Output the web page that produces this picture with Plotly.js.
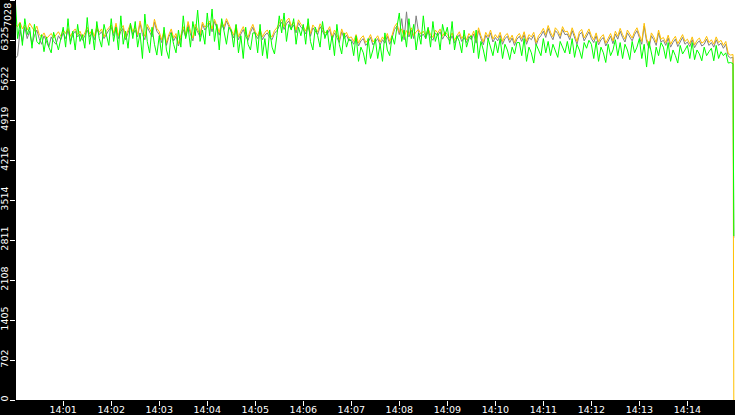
<!DOCTYPE html>
<html>
<head>
<meta charset="utf-8">
<script src="https://cdn.plot.ly/plotly-3.0.1.min.js"></script>
<style>
  html, body { margin: 0; padding: 0; background: #000; }
  #chart { width: 735px; height: 415px; }
</style>
</head>
<body>
<div id="chart"></div>
<script>
// sampling grid: one reading every 3 seconds from 14:00:00
var DAY = '2024-01-01';
var STEP_SEC = 3;
var VIEW_START = DAY + ' 14:00:01';
var VIEW_END = DAY + ' 14:14:59.5';
var DROP_TIME = DAY + ' 14:14:58';

// y axis ticks (the labels are truncated, not rounded)
var yTickVals = [0, 702.8, 1405.6, 2108.4, 2811.2, 3514, 4216.8, 4919.6, 5622.4, 6325.2, 7028];
var yTickText = ['0', '702', '1405', '2108', '2811', '3514', '4216', '4919', '5622', '6325', ''];
var yTopLabel = '7028';

// series values (10 readings per 30 s per row)
var grayValues = [
  6000, 6050, 6500, 6300, 6550, 6350, 6480, 6250, 6400, 6500,
  6350, 6250, 6400, 6300, 6200, 6380, 6300, 6250, 6400, 6330,
  6450, 6350, 6500, 6300, 6420, 6480, 6380, 6430, 6320, 6400,
  6500, 6380, 6450, 6330, 6520, 6420, 6470, 6350, 6440, 6500,
  6550, 6400, 6580, 6350, 6480, 6530, 6330, 6450, 6570, 6420,
  6500, 6380, 6620, 6420, 6330, 6550, 6470, 6380, 6640, 6480,
  6420, 6280, 6450, 6230, 6380, 6470, 6310, 6390, 6220, 6350,
  6510, 6380, 6600, 6430, 6310, 6550, 6460, 6380, 6600, 6500,
  6560, 6620, 6470, 6650, 6530, 6410, 6600, 6510, 6660, 6560,
  6470, 6360, 6540, 6330, 6430, 6510, 6390, 6320, 6460, 6550,
  6420, 6350, 6470, 6330, 6410, 6450, 6370, 6330, 6440, 6490,
  6570, 6640, 6510, 6610, 6660, 6530, 6590, 6450, 6630, 6550,
  6510, 6430, 6570, 6390, 6540, 6470, 6420, 6560, 6490, 6400,
  6430, 6510, 6330, 6450, 6370, 6280, 6470, 6350, 6410, 6310,
  6330, 6250, 6370, 6220, 6310, 6350, 6230, 6280, 6370, 6240,
  6290, 6350, 6240, 6330, 6270, 6390, 6250, 6360, 6510, 6570,
  6420, 6700, 6330, 6820, 6380, 6500, 6350, 6750, 6460, 6380,
  6430, 6350, 6480, 6370, 6320, 6450, 6400, 6470, 6340, 6420,
  6370, 6310, 6400, 6270, 6350, 6420, 6300, 6370, 6280, 6390,
  6330, 6430, 6270, 6490, 6350, 6240, 6410, 6330, 6450, 6290,
  6370, 6310, 6410, 6250, 6350, 6390, 6280, 6360, 6230, 6340,
  6390, 6300, 6420, 6250, 6370, 6330, 6410, 6230, 6350, 6400,
  6480, 6370, 6530, 6410, 6330, 6490, 6440, 6350, 6510, 6420,
  6430, 6330, 6490, 6370, 6250, 6420, 6460, 6310, 6390, 6470,
  6350, 6280, 6400, 6240, 6330, 6370, 6220, 6310, 6390, 6260,
  6430, 6340, 6480, 6370, 6290, 6450, 6390, 6310, 6420, 6490,
  6370, 6250, 6570, 6300, 6180, 6400, 6330, 6230, 6450, 6290,
  6320, 6230, 6360, 6200, 6280, 6340, 6210, 6300, 6370, 6250,
  6290, 6210, 6330, 6190, 6270, 6310, 6220, 6250, 6340, 6230,
  6280, 6200, 6330, 6230, 6270, 6180, 6250, 6040, 6010, 6020
];
var yellowValues = [
  6600, 6560, 6640, 6520, 6590, 6500, 6620, 6550, 6480, 6570,
  6420, 6380, 6450, 6350, 6400, 6440, 6360, 6410, 6470, 6390,
  6500, 6440, 6530, 6390, 6470, 6520, 6420, 6480, 6370, 6450,
  6550, 6430, 6500, 6390, 6560, 6460, 6520, 6380, 6490, 6540,
  6590, 6450, 6620, 6400, 6530, 6580, 6370, 6500, 6610, 6470,
  6560, 6420, 6660, 6480, 6390, 6600, 6510, 6440, 6690, 6530,
  6470, 6330, 6500, 6280, 6420, 6520, 6360, 6440, 6260, 6400,
  6560, 6420, 6650, 6480, 6360, 6600, 6500, 6420, 6640, 6550,
  6600, 6660, 6520, 6690, 6580, 6460, 6640, 6560, 6700, 6610,
  6520, 6410, 6590, 6380, 6480, 6560, 6440, 6370, 6510, 6600,
  6470, 6400, 6520, 6380, 6460, 6500, 6420, 6380, 6490, 6540,
  6620, 6690, 6560, 6660, 6710, 6580, 6640, 6500, 6680, 6600,
  6560, 6480, 6620, 6440, 6590, 6520, 6470, 6610, 6540, 6450,
  6480, 6560, 6380, 6500, 6420, 6330, 6520, 6400, 6460, 6360,
  6380, 6300, 6420, 6270, 6360, 6400, 6280, 6330, 6420, 6290,
  6340, 6400, 6290, 6380, 6320, 6440, 6300, 6410, 6560, 6620,
  6460, 6520, 6380, 6490, 6420, 6540, 6400, 6470, 6510, 6430,
  6480, 6400, 6530, 6420, 6370, 6500, 6450, 6520, 6390, 6470,
  6420, 6360, 6450, 6320, 6400, 6470, 6350, 6420, 6330, 6440,
  6380, 6480, 6320, 6540, 6400, 6290, 6460, 6380, 6500, 6340,
  6420, 6360, 6460, 6300, 6400, 6440, 6330, 6410, 6280, 6390,
  6440, 6350, 6470, 6300, 6420, 6380, 6460, 6280, 6400, 6450,
  6530, 6420, 6580, 6460, 6380, 6540, 6490, 6400, 6560, 6470,
  6480, 6380, 6540, 6420, 6300, 6470, 6510, 6360, 6440, 6520,
  6400, 6330, 6450, 6290, 6380, 6420, 6270, 6360, 6440, 6310,
  6480, 6390, 6530, 6420, 6340, 6500, 6440, 6360, 6470, 6540,
  6420, 6300, 6620, 6350, 6230, 6450, 6380, 6280, 6500, 6340,
  6370, 6280, 6410, 6250, 6330, 6390, 6260, 6350, 6420, 6300,
  6340, 6260, 6380, 6240, 6320, 6360, 6270, 6300, 6390, 6280,
  6330, 6250, 6380, 6280, 6320, 6230, 6300, 6090, 6060, 6070
];
var greenValues = [
  7050, 6350, 6620, 6230, 6700, 6420, 6550, 6180, 6600, 6300,
  6250, 6420, 6120, 6380, 6200, 6100, 6460, 6280, 6150, 6350,
  6550, 6200, 6700, 6250, 6480, 6150, 6600, 6300, 6420, 6180,
  6720, 6250, 6520, 6150, 6650, 6350, 6200, 6600, 6380, 6230,
  6700, 6300, 6550, 6150, 6750, 6250, 6480, 6180, 6620, 6350,
  6650, 6200, 6450, 6000, 6780, 6300, 6100, 6550, 6250, 6060,
  6400, 6050, 6550, 6150, 6000, 6450, 6250, 6100, 6500, 6200,
  6750, 6350, 6550, 6200, 6650, 6400, 6850, 6300, 6500, 6250,
  6800, 6400, 6870, 6300, 6600, 6150, 6700, 6450, 6250, 6550,
  6500, 6200, 6600, 6100, 6400, 6000, 6550, 6250, 6150, 6450,
  6450, 6100, 6600, 6050, 6350, 6000, 6500, 6200, 6080, 6400,
  6750, 6450, 6800, 6300, 6600, 6500, 6700, 6250, 6550, 6400,
  6600, 6250, 6700, 6300, 6150, 6550, 6400, 6200, 6650, 6350,
  6500, 6150, 6400, 6050, 6600, 6250, 6080, 6450, 6200, 6350,
  6300, 6050, 6400, 5950, 6200, 6100, 5900, 6350, 6000, 6150,
  6350, 6000, 6250, 5950, 6450, 6150, 6050, 6400, 6250, 6550,
  6800, 6300, 6500, 6200, 6700, 6350, 6600, 6150, 6450, 6250,
  6750, 6350, 6550, 6200, 6650, 6300, 6450, 6150, 6600, 6400,
  6550, 6250, 6650, 6150, 6400, 6300, 6100, 6500, 6200, 6350,
  6400, 6100, 6500, 6000, 6300, 6150, 5950, 6350, 6200, 6050,
  6300, 6100, 6350, 6000, 6250, 6150, 5980, 6200, 6080, 6280,
  6280, 6050, 6350, 5950, 6200, 6100, 5920, 6250, 6150, 6050,
  6350, 6100, 6300, 6050, 6250, 6150, 6020, 6300, 6200, 6100,
  6300, 6080, 6350, 6020, 6250, 6150, 6000, 6280, 6180, 6320,
  6250, 6000, 6300, 5950, 6200, 6100, 5930, 6250, 6050, 6150,
  6330, 6050, 6280, 6000, 6250, 6150, 5980, 6300, 6100, 6200,
  6350, 6000, 6250, 5850, 6300, 6100, 5900, 6200, 6050, 6280,
  6200, 6000, 6280, 5950, 6150, 6050, 5920, 6230, 6080, 6150,
  6230, 6000, 6280, 5980, 6150, 6080, 5960, 6200, 6050, 6120,
  6180, 5960, 6230, 6000, 6120, 6050, 6100, 5920, 5930, 5910
];
// last reading, where every series falls away
var grayDrop = 2850, yellowDrop = 0, greenDrop = 2880;

function pad(n) { return (n < 10 ? '0' : '') + n; }

var times = [];
for (var i = 0; i < greenValues.length; i++) {
    var s = i * STEP_SEC;
    times.push(DAY + ' 14:' + pad(Math.floor(s / 60)) + ':' + pad(s % 60));
}
var allTimes = times.concat([DROP_TIME]);

function line(values, drop, color) {
    return {
        x: allTimes,
        y: values.concat([drop]),
        type: 'scatter',
        mode: 'lines',
        line: { color: color, width: 1 },
        hoverinfo: 'skip'
    };
}

var traces = [
    line(grayValues, grayDrop, '#7f7f7f'),
    line(yellowValues, yellowDrop, '#ffc000'),
    line(greenValues, greenDrop, '#00ff00')
];

var tickFont = { family: 'DejaVu Sans', size: 9.5, color: '#ffffff' };

var layout = {
    width: 735,
    height: 415,
    margin: { l: 16, r: 0, t: 0, b: 15, pad: 0 },
    paper_bgcolor: '#000000',
    plot_bgcolor: '#ffffff',
    showlegend: false,
    xaxis: {
        type: 'date',
        range: [VIEW_START, VIEW_END],
        tick0: times[0],
        dtick: 60000,
        tickformat: '%H:%M',
        ticks: 'outside',
        ticklen: 5,
        tickwidth: 1,
        tickcolor: '#ffffff',
        tickfont: tickFont,
        ticklabelstandoff: -4,
        ticklabeloverflow: 'allow',
        showgrid: false,
        zeroline: false,
        showline: false,
        fixedrange: true
    },
    yaxis: {
        range: [0, 7028],
        tickmode: 'array',
        tickvals: yTickVals,
        ticktext: yTickText,
        tickangle: -90,
        ticks: 'outside',
        ticklen: 5,
        tickwidth: 1,
        tickcolor: '#ffffff',
        tickfont: tickFont,
        ticklabelstandoff: -2,
        ticklabeloverflow: 'allow',
        showgrid: false,
        zeroline: false,
        showline: false,
        fixedrange: true
    },
    // the top label sits inside the page instead of centred on its tick
    annotations: [{
        text: yTopLabel,
        xref: 'paper', yref: 'paper',
        x: 0, y: 1,
        xanchor: 'center', yanchor: 'top',
        xshift: -9, yshift: -1,
        textangle: -90,
        showarrow: false,
        font: tickFont
    }]
};

Plotly.newPlot('chart', traces, layout, { staticPlot: true, displayModeBar: false });
</script>
</body>
</html>
